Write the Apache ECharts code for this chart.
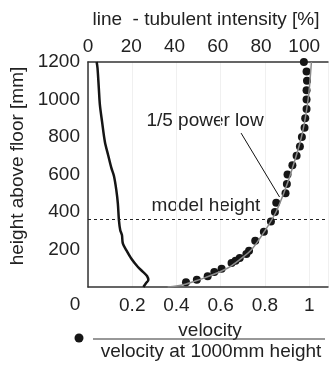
<!DOCTYPE html>
<html>
<head>
<meta charset="utf-8">
<script src="https://cdn.jsdelivr.net/npm/echarts@6/dist/echarts.min.js"></script>
<style>
  html, body { margin: 0; padding: 0; background: #fff; }
  #chart { width: 331px; height: 367px; }
</style>
</head>
<body>
<div id="chart"></div>
<script>
// measured velocity (dots), normalised by velocity at 1000mm
var dotHeight = [1200, 1150, 1100, 1050, 1000, 950, 900, 850, 800, 750, 700, 650, 600, 550, 500,
                 450, 400, 350, 295, 247, 194, 176, 155, 140, 128, 98, 80, 57, 39, 25];
var dotVelocity = [0.976, 0.988, 0.990, 0.988, 0.988, 0.988, 0.982, 0.979, 0.967, 0.958, 0.943, 0.924, 0.902, 0.899, 0.893,
                   0.851, 0.845, 0.827, 0.795, 0.756, 0.728, 0.716, 0.686, 0.667, 0.649, 0.604, 0.571, 0.541, 0.492, 0.443];

// 1/5 power law curve (grey line)
var powerHeight = [0, 5, 15, 30, 50, 100, 150, 200, 300, 400, 500, 600, 800, 1000, 1200];
var powerVelocity = [0.36, 0.40, 0.44, 0.48, 0.53, 0.63, 0.69, 0.74, 0.80, 0.85, 0.885, 0.915, 0.965, 0.995, 1.01];

// turbulent intensity [%] (black line, top axis)
var turbHeight = [1200, 1168, 1061, 971, 882, 775, 704, 635, 592, 517, 446, 357, 304, 277, 233,
                  197, 152, 108, 82, 59, 37, 20, 0];
var turbIntensity = [4.0, 4.4, 5.0, 5.5, 6.5, 7.8, 9.3, 10.8, 12.0, 13.1, 13.8, 14.3, 14.9, 15.7, 16.1,
                     17.7, 20.0, 23.0, 25.3, 27.3, 27.9, 26.8, 25.6];

var modelHeight = 360;
// leader line from the "1/5 power low" label to the curve
var leaderVelocity = [0.692, 0.866];
var leaderHeight = [821, 480];

var FONT = '"Liberation Sans", Arial, sans-serif';

function pairs(xs, ys) {
    var out = [];
    for (var i = 0; i < xs.length; i++) out.push([xs[i], ys[i]]);
    return out;
}

var chart = echarts.init(document.getElementById('chart'));
var option = {
    animation: false,
    textStyle: { fontFamily: FONT },
    grid: { left: 88, top: 62, right: 0, bottom: 80 },
    xAxis: [
        {
            type: 'value', position: 'bottom',
            min: 0, max: 1.085, interval: 0.2,
            axisLine: { show: true, lineStyle: { color: '#333', width: 1.5 } },
            axisTick: { show: false },
            splitLine: { show: true, lineStyle: { color: '#f0f0f0', width: 1 } },
            axisLabel: {
                margin: 9, fontSize: 19, color: '#222', fontFamily: FONT,
                formatter: function (v) {
                    if (v === 0 || v > 1.05) return '';
                    return String(Math.round(v * 10) / 10);
                }
            }
        },
        {
            type: 'value', position: 'top',
            min: 0, max: 111, interval: 20,
            axisLine: { show: true, lineStyle: { color: '#333', width: 1.5 } },
            axisTick: { show: false },
            splitLine: { show: false },
            axisLabel: {
                margin: 6, fontSize: 19, color: '#222', fontFamily: FONT,
                formatter: function (v) { return v > 105 ? '' : String(v); }
            }
        }
    ],
    yAxis: {
        type: 'value', min: 0, max: 1200, interval: 200,
        axisLine: { show: true, lineStyle: { color: '#333', width: 1.5 } },
        axisTick: { show: false },
        splitLine: { show: false },
        axisLabel: {
            margin: 8, fontSize: 19, color: '#222', fontFamily: FONT,
            formatter: function (v) { return v === 0 ? '' : String(v); }
        }
    },
    series: [
        {
            name: 'power law', type: 'line', xAxisIndex: 0,
            data: pairs(powerVelocity, powerHeight),
            showSymbol: false, smooth: 0.3,
            lineStyle: { color: '#8a8a8a', width: 1.5 },
            markLine: {
                silent: true, symbol: 'none', label: { show: false },
                lineStyle: { color: '#222', type: [3, 3], width: 1 },
                data: [{ yAxis: modelHeight }]
            }
        },
        {
            name: 'velocity', type: 'scatter', xAxisIndex: 0,
            data: pairs(dotVelocity, dotHeight),
            symbolSize: 8,
            itemStyle: { color: '#161616', opacity: 1 }
        },
        {
            name: 'turbulent intensity', type: 'line', xAxisIndex: 1,
            data: pairs(turbIntensity, turbHeight),
            showSymbol: false, smooth: 0.3,
            lineStyle: { color: '#151515', width: 2.5 }
        },
        {
            name: 'leader', type: 'line', xAxisIndex: 0,
            data: pairs(leaderVelocity, leaderHeight),
            showSymbol: false,
            lineStyle: { color: '#111', width: 1 }
        }
    ],
    graphic: [
        { type: 'text', x: 206, y: 20, style: { text: 'line  - tubulent intensity [%]', font: '19px ' + FONT, fill: '#222', align: 'center', verticalAlign: 'middle' } },
        { type: 'text', x: 18, y: 166, rotation: Math.PI / 2, style: { text: 'height above floor [mm]', font: '19px ' + FONT, fill: '#222', align: 'center', verticalAlign: 'middle' } },
        { type: 'text', x: 75, y: 305, style: { text: '0', font: '19px ' + FONT, fill: '#222', align: 'center', verticalAlign: 'middle' } },
        { type: 'text', x: 205, y: 121, style: { text: '1/5 power low', font: '19px ' + FONT, fill: '#222', align: 'center', verticalAlign: 'middle' } },
        { type: 'text', x: 206, y: 206, style: { text: 'model height', font: '19px ' + FONT, fill: '#222', align: 'center', verticalAlign: 'middle' } },
        { type: 'circle', shape: { cx: 79, cy: 338, r: 4.5 }, style: { fill: '#161616' } },
        { type: 'text', x: 210, y: 331, style: { text: 'velocity', font: '19px ' + FONT, fill: '#222', align: 'center', verticalAlign: 'middle' } },
        { type: 'line', shape: { x1: 93, y1: 339, x2: 325, y2: 339 }, style: { stroke: '#333', lineWidth: 1.2 } },
        { type: 'text', x: 211, y: 352, style: { text: 'velocity at 1000mm height', font: '19px ' + FONT, fill: '#222', align: 'center', verticalAlign: 'middle' } }
    ]
};
chart.setOption(option);
</script>
</body>
</html>
